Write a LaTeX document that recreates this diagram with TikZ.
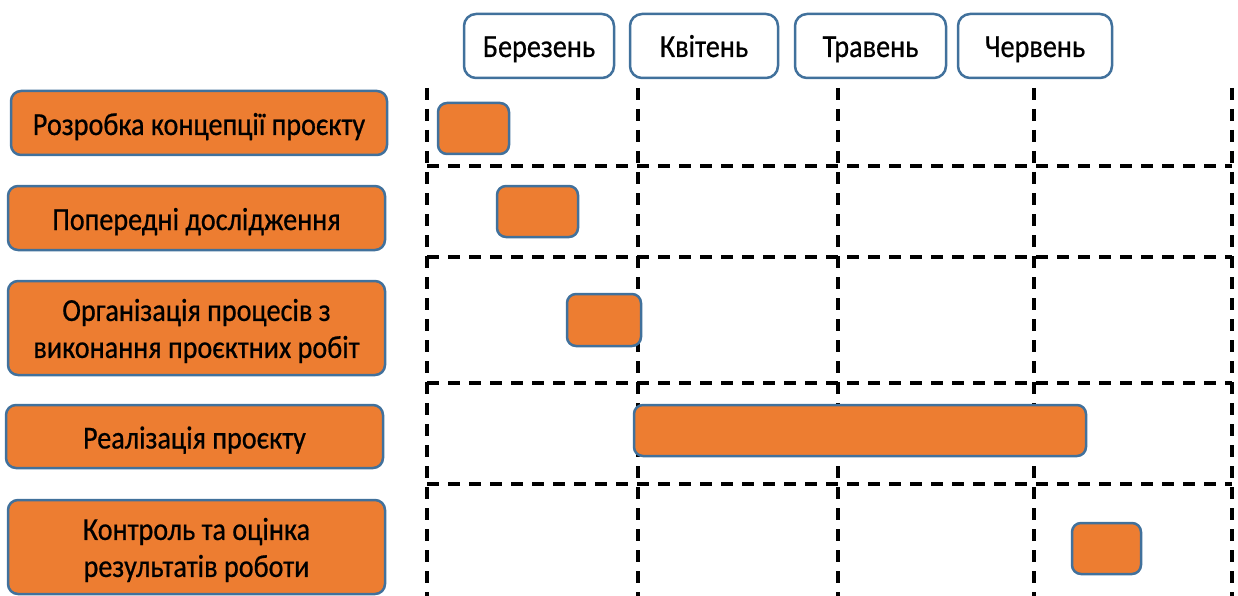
\documentclass[tikz,border=0pt]{standalone}
\usepackage{fontspec}
\setmainfont{Carlito}[FakeStretch=0.88,FakeBold=0.6]
\definecolor{bordblue}{RGB}{65,113,156}
\definecolor{barorange}{RGB}{237,125,49}
\begin{document}
\begin{tikzpicture}[x=1pt,y=-1pt,
  every node/.style={font=\fontsize{32}{37}\selectfont, align=center, inner sep=0pt},
  one/.style={text height=26pt, text depth=2pt},
  task/.style={draw=bordblue, line width=2.5pt, fill=barorange, rounded corners=10pt},
  month/.style={draw=bordblue, line width=2.5pt, fill=white, rounded corners=12pt, text height=25pt, text depth=3pt},
  bar/.style={draw=bordblue, line width=2.5pt, fill=barorange, rounded corners=9pt},
  grid/.style={black, line width=3.3pt, dash pattern=on 12pt off 9pt}]
\useasboundingbox (0,0) rectangle (1238,596);
% grid
\foreach \gx [count=\i] in {427,638,838,1034,1232} {
  \coordinate (vt\i) at (\gx,88);
  \coordinate (vb\i) at (\gx,596);
  \draw[grid] (vt\i) -- (vb\i);
}
\foreach \gy [count=\i] in {166,257,383,484} {
  \coordinate (hl\i) at (427,\gy);
  \coordinate (hr\i) at (1232,\gy);
  \draw[grid] (hl\i) -- (hr\i);
}
% months
\node[month, minimum width=150pt, minimum height=64pt] (m1) at (539,46) {Березень};
\node[month, minimum width=148pt, minimum height=64pt] (m2) at (704,46) {Квітень};
\node[month, minimum width=151pt, minimum height=64pt] (m3) at (870.5,46) {Травень};
\node[month, minimum width=154pt, minimum height=64pt] (m4) at (1035,46) {Червень};
% tasks
\node[task, one, minimum width=376pt, minimum height=64pt] (t1) at (199,123) {Розробка концепції проєкту};
\node[task, one, minimum width=377pt, minimum height=64pt] (t2) at (196.5,218) {Попередні дослідження};
\node[task, minimum width=377pt, minimum height=94pt] (t3) at (196.5,328) {\rule{0pt}{28pt}Організація процесів з\\виконання проєктних робіт};
\node[task, one, minimum width=377pt, minimum height=63pt] (t4) at (194.5,436.5) {Реалізація проєкту};
\node[task, minimum width=377pt, minimum height=94pt] (t5) at (196.5,547) {\rule{0pt}{28pt}Контроль та оцінка\\результатів роботи};
% bars
\node[bar, minimum width=71pt, minimum height=51pt] (b1) at (473.5,128.5) {};
\node[bar, minimum width=81pt, minimum height=51pt] (b2) at (537.5,211.5) {};
\node[bar, minimum width=74pt, minimum height=52pt] (b3) at (604,320) {};
\node[bar, minimum width=452pt, minimum height=51pt] (b4) at (860,430.5) {};
\node[bar, minimum width=69pt, minimum height=51pt] (b5) at (1106.5,548.5) {};
\end{tikzpicture}
\end{document}
